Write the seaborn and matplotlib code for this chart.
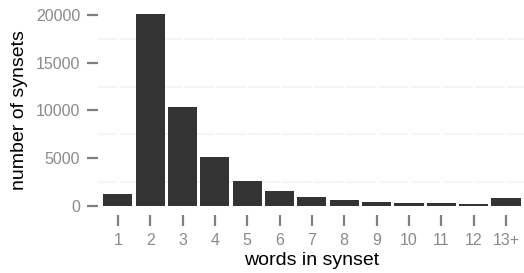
import matplotlib
matplotlib.use("Agg")
import matplotlib.pyplot as plt
import seaborn as sns
import pandas as pd

categories = ["1", "2", "3", "4", "5", "6", "7", "8", "9", "10", "11", "12", "13+"]
counts = [1210, 20120, 10350, 5100, 2570, 1520, 890, 580, 370, 260, 260, 160, 790]
y_ticks = [0, 5000, 10000, 15000, 20000]
minor_grid = [2500, 7500, 12500, 17500]

sns.set_style("white")
plt.rcParams["font.family"] = ["Liberation Sans", "DejaVu Sans"]

W, H = 524, 273
fig = plt.figure(figsize=(W / 100, H / 100), dpi=100)
left, right, top, bottom = 98.4, 525.4, 4.4, 215.1
ax = fig.add_axes([left / W, 1 - bottom / H, (right - left) / W, (bottom - top) / H])

df = pd.DataFrame({"words": categories, "n": counts})

# faint minor grid lines, cut by white vertical major grid lines
for g in minor_grid:
    ax.axhline(g, color="#f3f3f3", lw=1.1, zorder=0)
for i in range(len(categories)):
    ax.axvline(i, color="white", lw=1.9, zorder=0.5)

sns.barplot(data=df, x="words", y="n", color="#333333", saturation=1,
            width=0.9, ax=ax, zorder=2, linewidth=0)

ymax = max(counts)
ax.set_xlim(-0.6, len(categories) - 0.4)
ax.set_ylim(-0.05 * ymax, 1.05 * ymax)
ax.set_yticks(y_ticks)
ax.set_yticklabels([str(t) for t in y_ticks])

for s in ax.spines.values():
    s.set_visible(False)

ax.tick_params(axis="both", which="major", direction="out", length=8, width=1.6,
               color="#7f7f7f", labelcolor="#8a8a8a", labelsize=11.5, pad=5)
ax.tick_params(axis="x", bottom=True)
ax.tick_params(axis="y", left=True)

ax.set_xlabel("words in synset", fontsize=14, color="black", labelpad=3)
ax.set_ylabel("number of synsets", fontsize=14, color="black", labelpad=6)

fig.savefig("out.png", dpi=100)
